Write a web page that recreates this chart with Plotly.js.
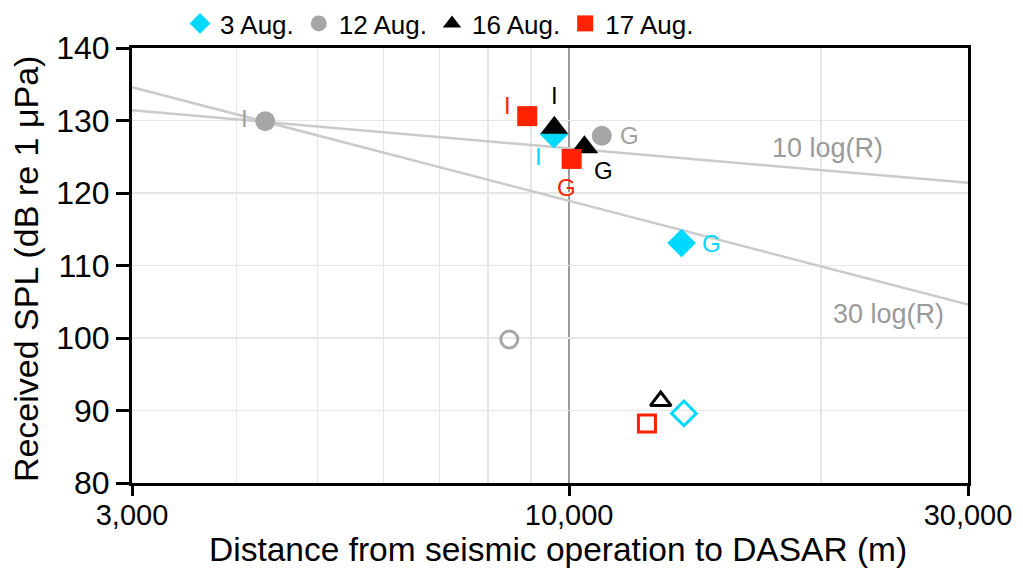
<!DOCTYPE html>
<html>
<head>
<meta charset="utf-8">
<script src="https://cdn.plot.ly/plotly-3.0.1.min.js"></script>
<style>html,body{margin:0;padding:0;background:#fff;}#chart{width:1023px;height:571px;}</style>
</head>
<body>
<div id="chart"></div>
<script>
// ---- data ----
const seriesNames = ['3 Aug.', '12 Aug.', '16 Aug.', '17 Aug.'];
// filled markers: [I, G]
const aug3X = [9590, 13630],  aug3Y = [128.1, 113.1];
const aug12X = [4330, 10940], aug12Y = [129.9, 127.9];
const aug16X = [9600, 10430], aug16Y = [129.0, 126.3];
const aug17X = [8910, 10070], aug17Y = [130.6, 124.7];
// open markers
const aug3OpenX = [13720],  aug3OpenY = [89.6];
const aug12OpenX = [8480],  aug12OpenY = [99.8];
const aug16OpenX = [12870], aug16OpenY = [91.3];
const aug17OpenX = [12390], aug17OpenY = [88.2];
const pointLabels = ['I', 'G'];
// spreading-loss reference lines
const lineX = [3000, 30000];
const line10Y = [131.4, 121.4];
const line30Y = [134.6, 104.6];
const lineNames = ['10 log(R)', '30 log(R)'];
const lineLabelX = [20400, 24100], lineLabelY = [126.2, 103.3];
const xTickVals = [3000, 10000, 30000];
const xTickText = ['3,000', '10,000', '30,000'];
const xMinorVals = [4000, 5000, 6000, 7000, 8000, 9000, 20000];
const yTickVals = [80, 90, 100, 110, 120, 130, 140];
const xTitle = 'Distance from seismic operation to DASAR (m)';
const yTitle = 'Received SPL (dB re 1 \u03bcPa)';

// ---- styles ----
const FONT = 'Liberation Sans, Arial, sans-serif';
const colors = ['#00D9FF', '#A6A6A6', '#000000', '#FF2200'];
const symbols = ['diamond', 'circle', 'triangle-up', 'square'];
const sizes = [22, 20, 24, 20];
const openSizes = [19, 17, 18, 17];
const labelColors = ['#00D9FF', '#A0A0A0', '#000000', '#FF2200'];
// pixel offsets of the I / G labels relative to their points
const labelShift = [
  [[-15, -22], [30, 0]],
  [[-21, 3], [28, 0]],
  [[0, 32], [19, -23]],
  [[-20, 11], [-5, -29]]
];

const filled = [[aug3X, aug3Y], [aug12X, aug12Y], [aug16X, aug16Y], [aug17X, aug17Y]];
const opens = [[aug3OpenX, aug3OpenY], [aug12OpenX, aug12OpenY], [aug16OpenX, aug16OpenY], [aug17OpenX, aug17OpenY]];

const traces = [];
[line10Y, line30Y].forEach(function (ys) {
  traces.push({x: lineX, y: ys, mode: 'lines', type: 'scatter', showlegend: false, hoverinfo: 'skip',
    line: {color: '#CACACA', width: 2.5}});
});
for (let i = 0; i < 4; i++) {
  traces.push({x: opens[i][0], y: opens[i][1], mode: 'markers', type: 'scatter', showlegend: false,
    marker: {symbol: symbols[i] + '-open', size: openSizes[i], color: colors[i], line: {width: 3, color: colors[i]}}});
}
for (let i = 0; i < 4; i++) {
  traces.push({x: filled[i][0], y: filled[i][1], mode: 'markers', type: 'scatter', name: seriesNames[i],
    marker: {symbol: symbols[i], size: sizes[i], color: colors[i], line: {width: 0}}});
}

const annotations = [];
for (let i = 0; i < 4; i++) {
  for (let k = 0; k < 2; k++) {
    annotations.push({x: Math.log10(filled[i][0][k]), y: filled[i][1][k], xref: 'x', yref: 'y',
      text: pointLabels[k], showarrow: false, xshift: labelShift[i][k][0], yshift: labelShift[i][k][1],
      font: {family: FONT, size: 24, color: labelColors[i]}});
  }
}
for (let j = 0; j < 2; j++) {
  annotations.push({x: Math.log10(lineLabelX[j]), y: lineLabelY[j], xref: 'x', yref: 'y', text: lineNames[j],
    showarrow: false, font: {family: FONT, size: 27, color: '#9A9A9A'}});
}
// axis titles as text annotations
annotations.push({x: -0.1268, y: 0.494, xref: 'paper', yref: 'paper', xanchor: 'center', yanchor: 'middle',
  text: yTitle, textangle: -90, showarrow: false, borderpad: 0, font: {family: FONT, size: 34, color: '#000'}});
annotations.push({x: 0.5096, y: -0.154, xref: 'paper', yref: 'paper', xanchor: 'center', yanchor: 'middle',
  text: xTitle, showarrow: false, borderpad: 0, font: {family: FONT, size: 33.5, color: '#000'}});

const layout = {
  width: 1023, height: 571,
  margin: {l: 132, r: 55, t: 48, b: 88, pad: 0},
  paper_bgcolor: '#ffffff', plot_bgcolor: '#ffffff',
  font: {family: FONT, color: '#000'},
  showlegend: true,
  legend: {orientation: 'h', xref: 'container', yref: 'container', x: 0.176, xanchor: 'left', y: 1, yanchor: 'top',
    font: {size: 26, color: '#000'}, bgcolor: 'rgba(0,0,0,0)', itemclick: false},
  xaxis: {type: 'log', range: [Math.log10(3000), Math.log10(30000)],
    tickvals: xTickVals, ticktext: xTickText, ticks: 'outside', ticklen: 10, tickwidth: 3, tickcolor: '#000',
    ticklabelstandoff: -6,
    showline: true, linewidth: 3, linecolor: '#000', mirror: true, zeroline: false,
    showgrid: true, gridcolor: '#999999', gridwidth: 2.5,
    minor: {tickvals: xMinorVals, showgrid: true, gridcolor: '#E6E6E6', gridwidth: 1.5, ticks: ''},
    tickfont: {size: 29}},
  yaxis: {range: [80, 140], tickvals: yTickVals, ticks: 'outside', ticklen: 13, tickwidth: 3, tickcolor: '#000',
    showline: true, linewidth: 3, linecolor: '#000', mirror: true, zeroline: false,
    showgrid: true, gridcolor: '#E6E6E6', gridwidth: 1.5,
    tickfont: {size: 32}},
  annotations: annotations
};

Plotly.newPlot('chart', traces, layout, {displayModeBar: false, staticPlot: true});
</script>
</body>
</html>
